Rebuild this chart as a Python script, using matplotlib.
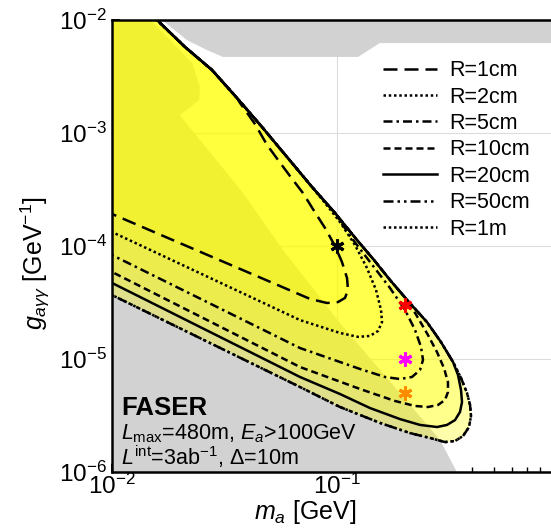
import matplotlib

matplotlib.use("Agg")
import matplotlib.pyplot as plt
from matplotlib.ticker import NullFormatter

plt.rcParams["font.family"] = ["Liberation Sans", "DejaVu Sans"]
plt.rcParams["mathtext.fontset"] = "custom"
plt.rcParams["mathtext.rm"] = "Liberation Sans"
plt.rcParams["mathtext.it"] = "Liberation Sans:italic"
plt.rcParams["mathtext.bf"] = "Liberation Sans:bold"

# shared upper edge of the sensitivity contours (m_a [GeV], g_agg [GeV^-1])
env_m = [0.0140, 0.01585, 0.02111, 0.02783, 0.03594, 0.04642, 0.05995, 0.07743, 0.09797,
         0.1227, 0.1460, 0.1720, 0.2068, 0.2512, 0.2899, 0.3279, 0.3557, 0.3783]
env_g = [1.28e-2, 1e-2, 5.77e-3, 3.61e-3, 2.04e-3, 1.13e-3, 6.13e-4, 3.33e-4, 1.96e-4,
         1.13e-4, 7.52e-5, 5.0e-5, 3.26e-5, 2.12e-5, 1.41e-5, 9.4e-6, 6.79e-6, 5.0e-6]

# own part of each contour: from where it leaves the upper edge, round the tip, back to m=0.01
r1cm_m = [0.0371, 0.0432, 0.0489, 0.0547, 0.0618, 0.0706, 0.0782, 0.0885, 0.0980, 0.1052,
          0.1108, 0.1119, 0.1085, 0.1010, 0.0903, 0.0759, 0.01]
r1cm_g = [1.84e-3, 1.20e-3, 7.83e-4, 5.77e-4, 4.16e-4, 2.94e-4, 2.12e-4, 1.44e-4, 1.0e-4, 7.22e-5,
          5.21e-5, 4.08e-5, 3.47e-5, 3.19e-5, 3.13e-5, 3.40e-5, 1.92e-4]
r2cm_m = [0.0885, 0.1031, 0.1202, 0.1359, 0.1491, 0.1569, 0.1585, 0.1521, 0.1402, 0.1240,
          0.1031, 0.0685, 0.01]
r2cm_g = [2.40e-4, 1.63e-4, 1.02e-4, 6.38e-5, 4.08e-5, 2.72e-5, 2.12e-5, 1.77e-5, 1.60e-5, 1.57e-5,
          1.70e-5, 2.21e-5, 1.33e-4]
r5cm_m = [0.1142, 0.1402, 0.1720, 0.2005, 0.2222, 0.2362, 0.2411, 0.2338, 0.2154, 0.1905,
          0.1634, 0.1265, 0.0685, 0.01]
r5cm_g = [1.23e-4, 7.22e-5, 4.25e-5, 2.72e-5, 1.81e-5, 1.28e-5, 9.8e-6, 8.0e-6, 6.93e-6, 6.65e-6,
          6.93e-6, 8.16e-6, 1.25e-5, 8.32e-5]
r10cm_m = [0.2291, 0.2537, 0.2783, 0.2988, 0.3113, 0.3113, 0.3020, 0.2812, 0.2537, 0.2222,
           0.1811, 0.1265, 0.0685, 0.01]
r10cm_g = [2.31e-5, 1.63e-5, 1.15e-5, 8.32e-6, 6.25e-6, 5.10e-6, 4.34e-6, 3.92e-6, 3.76e-6, 3.84e-6,
           4.25e-6, 5.43e-6, 8.49e-6, 5.89e-5]
r20cm_m = [0.3449, 0.3557, 0.3594, 0.3521, 0.3345, 0.3083, 0.2783, 0.2338, 0.1905, 0.1402,
           0.1031, 0.0685, 0.01]
r20cm_g = [7.22e-6, 5.32e-6, 4.16e-6, 3.40e-6, 2.88e-6, 2.61e-6, 2.50e-6, 2.61e-6, 2.94e-6, 3.68e-6,
           4.90e-6, 6.93e-6, 4.71e-5]
r50cm_m = [0.3901, 0.3941, 0.3861, 0.3631, 0.3345, 0.3020, 0.2590, 0.2111, 0.1553, 0.1031,
           0.0685, 0.01]
r50cm_g = [3.92e-6, 3.13e-6, 2.50e-6, 2.08e-6, 1.88e-6, 1.84e-6, 2.0e-6, 2.21e-6, 2.72e-6, 3.76e-6,
           5.65e-6, 3.68e-5]
r1m_m = [0.3901, 0.3941, 0.3861, 0.3631, 0.3345, 0.3020, 0.2590, 0.2111, 0.1553, 0.1031,
         0.0685, 0.01]
r1m_g = [3.92e-6, 3.13e-6, 2.50e-6, 2.08e-6, 1.88e-6, 1.84e-6, 2.0e-6, 2.21e-6, 2.72e-6, 3.76e-6,
         5.65e-6, 3.68e-5]

labels = ["R=1cm", "R=2cm", "R=5cm", "R=10cm", "R=20cm", "R=50cm", "R=1m"]
contours = [(r1cm_m, r1cm_g), (r2cm_m, r2cm_g), (r5cm_m, r5cm_g), (r10cm_m, r10cm_g),
            (r20cm_m, r20cm_g), (r50cm_m, r50cm_g), (r1m_m, r1m_g)]
styles = [(0, (5.6, 2.8)), (0, (1, 1.1)), (0, (3.6, 1.6, 1, 1.6)), (0, (2.8, 1.6)),
          "-", (0, (4, 1.6, 1, 1.6, 1, 1.6)), (0, (1, 1.1))]

# excluded regions
top_gray_m = [0.0155, 0.0167, 0.0215, 0.0264, 0.0311, 0.124, 0.155, 1.0, 1.0]
top_gray_g = [1.2e-2, 1e-2, 6.65e-3, 5.43e-3, 4.71e-3, 4.71e-3, 6.25e-3, 6.25e-3, 1.2e-2]
low_gray_m = [0.009, 0.0148, 0.0227, 0.0246, 0.0244, 0.020, 0.0382, 0.0575, 0.103, 0.287, 0.341,
              0.341, 0.009]
low_gray_g = [1e-2, 1e-2, 4.16e-3, 2.55e-3, 1.96e-3, 1.44e-3, 2.94e-4, 9.2e-5, 2.08e-5, 1.92e-6, 1e-6,
              9e-7, 9e-7]

# benchmark points
star_m = [0.1, 0.2, 0.2, 0.2]
star_g = [1e-4, 3e-5, 1e-5, 5e-6]
star_c = ["black", "red", "magenta", "#ff8c00"]

GRAY = "#d2d2d2"


def full_curve(m, g):
    cm = [x for x in env_m if x < m[0]] + list(m)
    cg = [y for x, y in zip(env_m, env_g) if x < m[0]] + list(g)
    return cm, cg


fig = plt.figure(figsize=(5.51, 5.30), dpi=100)
ax = fig.add_axes([112 / 551, 58 / 530, 445 / 551, 452 / 530])
ax.set_xscale("log")
ax.set_yscale("log")
ax.set_xlim(0.01, 0.95)
ax.set_ylim(1e-6, 1e-2)
ax.set_axisbelow(True)
ax.grid(True, which="major", color="#dcdcdc", lw=0.8)

ax.fill(top_gray_m, top_gray_g, color=GRAY, lw=0, zorder=1)
ax.fill(low_gray_m, low_gray_g, color=GRAY, lw=0, zorder=1)

for lab, (m, g), ls in zip(labels, contours, styles):
    cm, cg = full_curve(m, g)
    ax.fill(cm + [0.01], cg + [2e-2], color="yellow", alpha=0.18, lw=0, zorder=2)
    ax.plot(cm, cg, color="black", lw=1.8, ls=ls, label=lab, zorder=3)

for m, g, c in zip(star_m, star_g, star_c):
    ax.plot(m, g, marker=(6, 2, 0), ms=10, mew=2.2, color=c, zorder=4)

ax.legend(loc="upper left", bbox_to_anchor=(0.609, 0.911), frameon=False, fontsize=15.5,
          handlelength=2.5, handletextpad=0.6, labelspacing=0.25, borderpad=0,
          borderaxespad=0)

ax.text(0.02, 0.126, "FASER", fontsize=18.5, fontweight="bold", transform=ax.transAxes,
        va="baseline", zorder=5)
ax.text(0.02, 0.073, r"$L_{\rm max}$=480m, $E_a$>100GeV", fontsize=15.5,
        transform=ax.transAxes, va="baseline", zorder=5)
ax.text(0.02, 0.0155, r"$L^{\rm int}$=3ab$^{-1}$, Δ=10m", fontsize=15.5,
        transform=ax.transAxes, va="baseline", zorder=5)

ax.set_xlabel(r"$m_a$ [GeV]", fontsize=18)
ax.set_ylabel(r"$g_{a\gamma\gamma}$ [GeV$^{-1}$]", fontsize=18)
ax.xaxis.set_label_coords(0.434, -0.058)
ax.yaxis.set_label_coords(-0.135, 0.462)

ax.xaxis.set_minor_formatter(NullFormatter())
ax.yaxis.set_minor_formatter(NullFormatter())
ax.tick_params(which="both", direction="in", top=False, right=False, labelsize=17.5)
ax.tick_params(axis="x", which="major", pad=1.5)
ax.tick_params(axis="y", which="major", pad=3.5)
ax.tick_params(which="major", length=6, width=1.3)
ax.tick_params(which="minor", length=3.5, width=1.0)
for side in ("left", "bottom", "top", "right"):
    ax.spines[side].set_linewidth(1.8)

fig.savefig("out.png", dpi=100)
